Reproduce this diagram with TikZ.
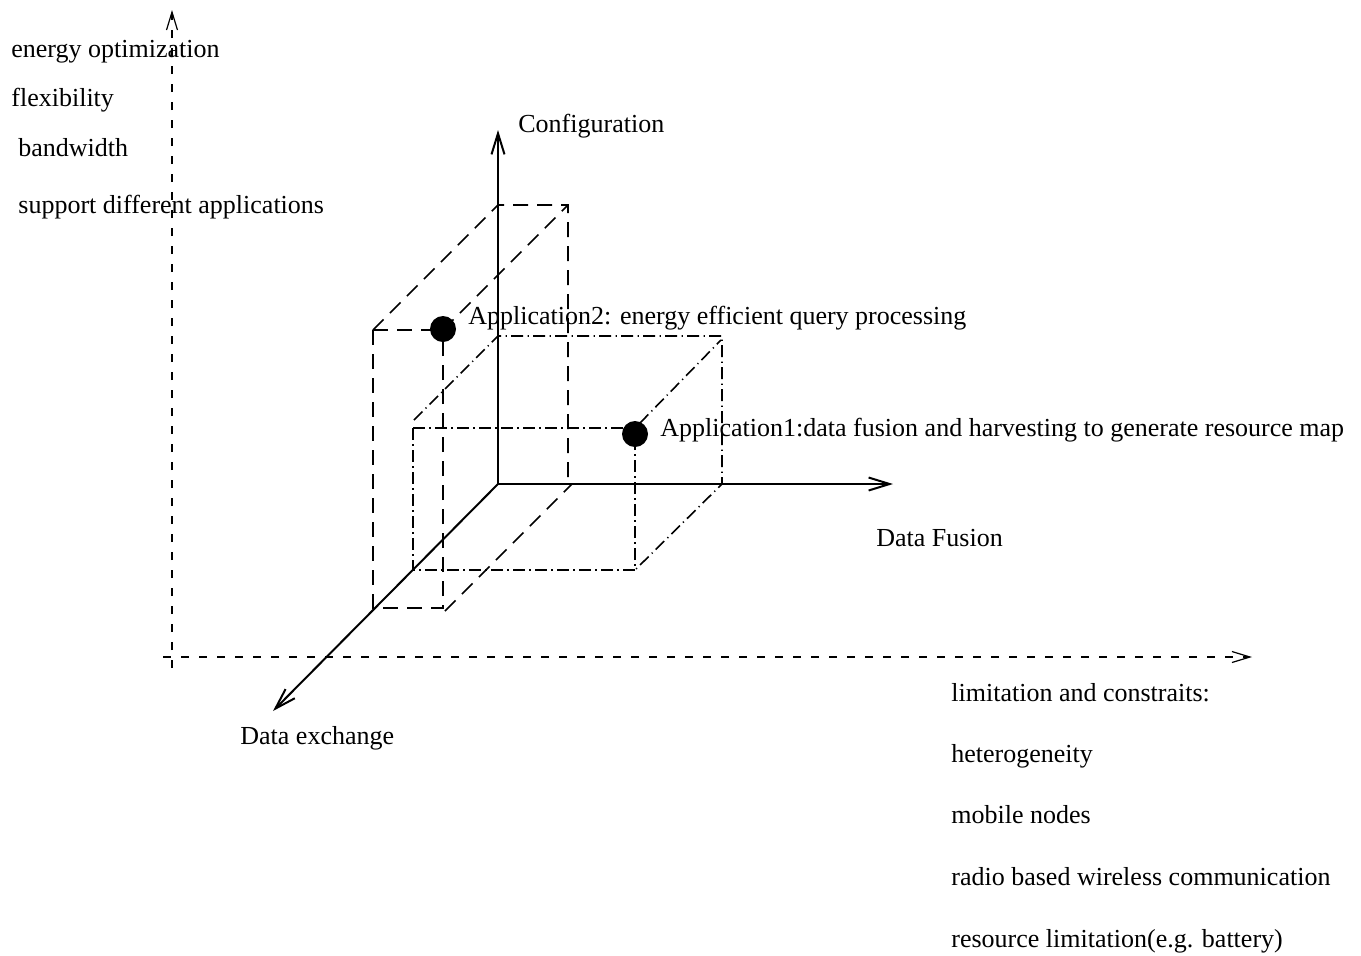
\documentclass[tikz,border=0pt]{standalone}
\usepackage{fontspec}
\setmainfont{Liberation Serif}
\usetikzlibrary{arrows.meta}
\begin{document}
\begin{tikzpicture}[x=0.5pt,y=-0.5pt,
  axis/.style={line width=1pt,-{Straight Barb[length=10.5pt,width=6.5pt,line width=1pt]}},
  frameaxis/.style={line width=0.6pt,dash pattern=on 4pt off 5pt,-{Straight Barb[length=9pt,width=5.5pt,line width=0.6pt]}},
  boxdash/.style={line width=0.8pt,dash pattern=on 7.5pt off 4.5pt},
  boxdashdot/.style={line width=0.8pt,dash pattern=on 6pt off 2.2pt on 0.6pt off 2.2pt},
  lbl/.style={anchor=base west,inner sep=0pt,font=\fontsize{13}{15}\selectfont},
  dot/.style={circle,fill=black,inner sep=0pt,minimum size=13pt}]
\useasboundingbox (0,0) rectangle (1361,955);

% outer frame axes
\coordinate (fv0) at (172,668);
\coordinate (fv1) at (172,10);
\coordinate (fh0) at (163,657);
\coordinate (fh1) at (1252,657);
\draw[frameaxis] (fv0) -- (fv1);
\draw[frameaxis] (fh0) -- (fh1);

% main axes
\coordinate (O) at (498,484);
\coordinate (cfg) at (498,130);
\coordinate (fus) at (893,484);
\coordinate (exc) at (273,711);
\draw[axis] (O) -- (cfg);
\draw[axis] (O) -- (fus);
\draw[axis] (O) -- (exc);

% box of application 2 (dashed)
\coordinate (a2ftl) at (373,330);
\coordinate (a2ftr) at (443,330);
\coordinate (a2fbl) at (373,608);
\coordinate (a2fbr) at (443,608);
\coordinate (a2btl) at (498,205);
\coordinate (a2btr) at (568,205);
\coordinate (a2bbr) at (568,483);
\coordinate (a2dl) at (445,611);
\coordinate (a2dr) at (572,484);
\draw[boxdash] (a2ftl) -- (a2ftr);
\draw[boxdash] (a2ftl) -- (a2fbl) -- (a2fbr) -- (a2ftr);
\draw[boxdash] (a2ftl) -- (a2btl) -- (a2btr) -- (a2bbr);
\draw[boxdash] (a2ftr) -- (a2btr);
\draw[boxdash] (a2dl) -- (a2dr);

% box of application 1 (dash-dotted)
\coordinate (a1ftl) at (413,428);
\coordinate (a1ftr) at (635,428);
\coordinate (a1fbl) at (413,570);
\coordinate (a1fbr) at (635,570);
\coordinate (a1btl) at (498,336);
\coordinate (a1btr) at (722,336);
\coordinate (a1bbr) at (722,484);
\coordinate (a1dl0) at (414,420);
\coordinate (a1dr0) at (640,423);
\coordinate (a1dr1) at (721,340);
\draw[boxdashdot] (a1ftl) -- (a1ftr);
\draw[boxdashdot] (a1ftl) -- (a1fbl) -- (a1fbr) -- (a1ftr);
\draw[boxdashdot] (a1dl0) -- (a1btl) -- (a1btr) -- (a1bbr) -- (a1fbr);
\draw[boxdashdot] (a1dr0) -- (a1dr1);

% application points
\node[dot] (app2dot) at (443,329) {};
\node[dot] (app1dot) at (635,434) {};

% axis labels
\node[lbl] (lcfg) at (518,132) {Configuration};
\node[lbl] (lfus) at (876,546) {Data Fusion};
\node[lbl] (lexc) at (240,744) {Data exchange};
\node[lbl] (lapp2) at (468,324) {Application2: energy efficient query processing};
\node[lbl] (lapp1) at (660,436) {Application1:data fusion and harvesting to generate resource map};

% goals
\node[lbl] (g1) at (11,57) {energy optimization};
\node[lbl] (g2) at (11,106) {flexibility};
\node[lbl] (g3) at (18,156) {bandwidth};
\node[lbl] (g4) at (18,213) {support different applications};

% limitations
\node[lbl] (c0) at (951,701) {limitation and constraits:};
\node[lbl] (c1) at (951,762) {heterogeneity};
\node[lbl] (c2) at (951,823) {mobile nodes};
\node[lbl] (c3) at (951,885) {radio based wireless communication};
\node[lbl] (c4) at (951,947) {resource limitation(e.g. battery)};
\end{tikzpicture}
\end{document}
